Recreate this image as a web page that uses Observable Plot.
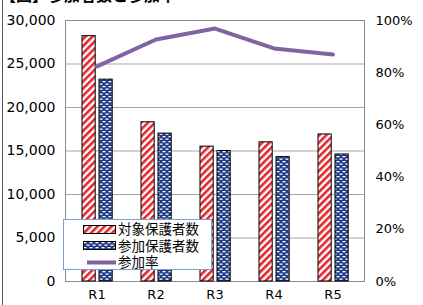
<!DOCTYPE html>
<html>
<head>
<meta charset="utf-8">
<script src="https://cdn.jsdelivr.net/npm/d3@7"></script>
<script src="https://cdn.jsdelivr.net/npm/@observablehq/plot@0.6"></script>
<style>
  html, body { margin: 0; padding: 0; background: #fff; overflow: hidden; }
  #wrap { position: relative; width: 423px; height: 305px; overflow: hidden; font-family: "Noto Sans CJK JP", "DejaVu Sans", sans-serif; }
  #title { position: absolute; left: 0px; top: -14px; font-size: 16px; line-height: 16px; font-weight: bold; white-space: nowrap; color: #000; }
  #border { position: absolute; left: 2px; top: 0; width: 1px; height: 305px; background: #595959; }
  #chart { position: absolute; left: 0; top: 0; }
  #legend { position: absolute; left: 63px; top: 219px; width: 149px; height: 51px; background: #fff; border: 1px solid #7a9fd4; box-sizing: border-box; font-family: "DejaVu Sans", "Noto Sans CJK JP", sans-serif; font-size: 13.5px; }
  .row { position: absolute; left: 0; height: 16px; display: flex; align-items: center; }
  .row svg { margin-left: 19px; margin-right: 2px; }
  .row span { line-height: 16px; color: #000; }
</style>
</head>
<body>
<div id="wrap">
  <svg width="0" height="0" style="position:absolute">
    <defs>
      <pattern id="hatchRed" patternUnits="userSpaceOnUse" width="5" height="5" patternTransform="rotate(45)">
        <rect x="0" y="0" width="5" height="5" fill="#ffffff"></rect>
        <rect x="0" y="0" width="2.6" height="5" fill="#e3262b"></rect>
      </pattern>
      <pattern id="dotBlue" patternUnits="userSpaceOnUse" width="6" height="5">
        <rect x="0" y="0" width="6" height="5" fill="#1f3c85"></rect>
        <rect x="0.5" y="1" width="3" height="1.3" fill="#ffffff"></rect>
        <rect x="3.5" y="3.5" width="3" height="1.3" fill="#ffffff"></rect>
        <rect x="-2.5" y="3.5" width="3" height="1.3" fill="#ffffff"></rect>
      </pattern>
    </defs>
  </svg>
  <div id="chart"></div>
  <div id="title">【図】参加者数と参加率</div>
  <div id="border"></div>
  <div id="legend"></div>
</div>
<script>
// ---- data ----
const categories = ["R1", "R2", "R3", "R4", "R5"];
const targetCounts = [28200, 18300, 15500, 16000, 16900];        // 対象保護者数
const participantCounts = [23200, 17000, 15000, 14300, 14600];   // 参加保護者数
const participationRate = [82.4, 92.7, 96.9, 89.3, 87.0];        // 参加率 (%)
const leftTicks = [0, 5000, 10000, 15000, 20000, 25000, 30000];
const rightTicks = [0, 20, 40, 60, 80, 100];
const seriesNames = ["対象保護者数", "参加保護者数", "参加率"];

const Y_MAX = 30000;
const rows = categories.map((c, i) => ({
  c, target: targetCounts[i], part: participantCounts[i], rate: participationRate[i]
}));

const chart = Plot.plot({
  width: 423,
  height: 305,
  marginLeft: 65,
  marginRight: 59,
  marginTop: 20,
  marginBottom: 24,
  style: { fontFamily: "DejaVu Sans, sans-serif", fontSize: "13px", background: "transparent", color: "#000" },
  x: { domain: categories, padding: 0, label: null },
  y: { domain: [0, Y_MAX], label: null },
  marks: [
    Plot.gridY(leftTicks, { stroke: "#a6a6a6", strokeOpacity: 1 }),
    Plot.frame({ stroke: "#8c8c8c" }),
    Plot.barY(rows, { x: "c", y: "target", fill: "url(#hatchRed)", stroke: "#000", strokeWidth: 1, insetLeft: 15, insetRight: 30.8 }),
    Plot.barY(rows, { x: "c", y: "part", fill: "url(#dotBlue)", stroke: "#000", strokeWidth: 1, insetLeft: 32, insetRight: 13.8 }),
    Plot.lineY(rows, { x: "c", y: d => d.rate / 100 * Y_MAX, stroke: "#8064a2", strokeWidth: 4 }),
    Plot.axisY(leftTicks, { anchor: "left", tickSize: 0, tickPadding: 10, tickFormat: d3.format(","), fontSize: 14, label: null }),
    Plot.axisY(rightTicks.map(p => p / 100 * Y_MAX), { anchor: "right", tickSize: 0, tickPadding: 11, tickFormat: v => Math.round(v / Y_MAX * 100) + "%", fontSize: 13, label: null }),
    Plot.axisX({ tickSize: 0, tickPadding: 8, fontSize: 13, label: null })
  ]
});
document.getElementById("chart").appendChild(chart);

// ---- legend (inside plot area) ----
const legend = document.getElementById("legend");
const swatches = [
  `<svg width="33" height="9"><rect x="0.5" y="0.5" width="32" height="8" fill="url(#hatchRed)" stroke="#000"/></svg>`,
  `<svg width="33" height="9"><rect x="0.5" y="0.5" width="32" height="8" fill="url(#dotBlue)" stroke="#000"/></svg>`,
  `<svg width="33" height="9"><line x1="4" y1="4.5" x2="33" y2="4.5" stroke="#8064a2" stroke-width="4"/></svg>`
];
seriesNames.forEach((name, i) => {
  const r = document.createElement("div");
  r.className = "row";
  r.style.top = (1 + i * 16.5) + "px";
  r.innerHTML = swatches[i] + `<span>${name}</span>`;
  legend.appendChild(r);
});
</script>
</body>
</html>
